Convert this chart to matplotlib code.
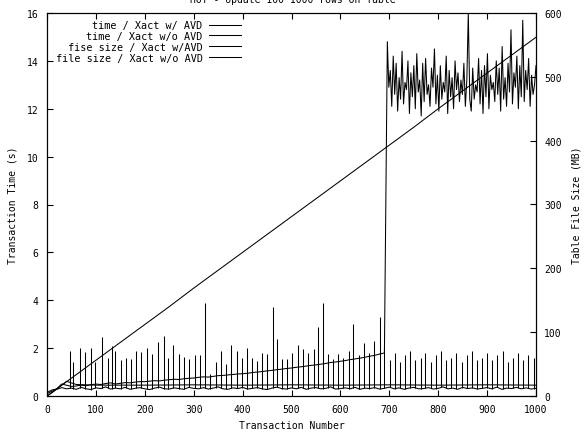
import numpy as np
import matplotlib
matplotlib.use("Agg")
import matplotlib.pyplot as plt

title = "HOT - Update 100 1000 rows on Table"
labels = ["time / Xact w/ AVD", "time / Xact w/o AVD",
          "fise size / Xact w/AVD", "file size / Xact w/o AVD"]

# time / Xact w/ AVD : baseline (every 10 txns) + periodic spikes
avd_base_y = [0.10, 0.20, 0.28, 0.35, 0.30, 0.33, 0.28, 0.36, 0.30, 0.27, 0.34, 0.31, 0.38, 0.29, 0.33,
              0.30, 0.36, 0.28, 0.32, 0.35, 0.30, 0.27, 0.33, 0.37, 0.30, 0.29, 0.34, 0.31, 0.28, 0.36,
              0.32, 0.30, 0.35, 0.29, 0.33, 0.38, 0.30, 0.28, 0.34, 0.31, 0.36, 0.29, 0.32, 0.35, 0.30,
              0.27, 0.33, 0.37, 0.31, 0.29, 0.34, 0.30, 0.36, 0.28, 0.33, 0.35, 0.30, 0.32, 0.38, 0.29,
              0.31, 0.34, 0.30, 0.36, 0.28, 0.33, 0.31, 0.35, 0.29, 0.32, 0.37, 0.30, 0.34, 0.28, 0.33,
              0.36, 0.30, 0.31, 0.35, 0.29, 0.32, 0.38, 0.30, 0.33, 0.28, 0.36, 0.31, 0.34, 0.29, 0.32,
              0.35, 0.30, 0.37, 0.28, 0.33, 0.31, 0.36, 0.30, 0.34, 0.29, 0.32]
spike_x = [47, 54, 67, 78, 90, 98, 112, 125, 132, 139, 151, 161, 171, 181, 192, 204, 215, 226, 239, 248,
           258, 269, 280, 290, 303, 313, 323, 333, 345, 356, 366, 377, 388, 398, 408, 420, 429, 439, 449,
           463, 471, 481, 491, 502, 514, 524, 534, 545, 555, 565, 575, 585, 596,
           606, 617, 625, 638, 648, 659, 669, 680, 690, 701, 711, 722, 732, 743, 753, 764, 774, 785, 795,
           806, 816, 827, 837, 848, 858, 869, 879, 890, 900, 911, 921, 932, 942, 953, 963, 974, 984, 995]
spike_y = [1.9, 1.4, 2.0, 1.85, 2.0, 1.4, 2.45, 1.6, 2.1, 1.9, 1.5, 1.6, 1.55, 1.9, 1.85, 2.0, 1.75, 2.25,
           2.5, 1.6, 2.15, 1.75, 1.65, 1.55, 1.7, 1.7, 3.9, 0.9, 1.4, 1.9, 1.35, 2.15, 1.9, 1.6, 2.0, 1.6,
           1.45, 1.8, 1.75, 3.7, 2.4, 1.55, 1.55, 1.8, 2.15, 1.95, 1.8, 1.95, 2.9, 3.9, 1.75, 1.55, 1.75,
           1.6, 1.9, 3.0, 1.7, 2.2, 1.8, 2.3, 3.3, 2.0, 1.5, 1.8, 1.4, 1.7, 1.9, 1.5, 1.6, 1.8, 1.4, 1.7,
           1.9, 1.5, 1.6, 1.8, 1.4, 1.7, 1.9, 1.5, 1.6, 1.8, 1.5, 1.7, 1.9, 1.4, 1.6, 1.8, 1.5, 1.7, 1.6]

# time / Xact w/o AVD : slowly rising line until the jump, then high noisy band
noavd_pre_y = [0.15, 0.25, 0.30, 0.50, 0.45, 0.40, 0.42, 0.45, 0.43, 0.47, 0.50, 0.48, 0.52, 0.55, 0.50,
               0.53, 0.56, 0.55, 0.58, 0.60, 0.60, 0.62, 0.64, 0.63, 0.66, 0.68, 0.70, 0.69, 0.72, 0.74,
               0.75, 0.78, 0.80, 0.79, 0.82, 0.85, 0.86, 0.88, 0.90, 0.92, 0.93, 0.95, 0.98, 1.00, 1.02,
               1.05, 1.07, 1.10, 1.12, 1.15, 1.17, 1.20, 1.22, 1.25, 1.28, 1.30, 1.33, 1.36, 1.40, 1.42,
               1.45, 1.48, 1.52, 1.55, 1.58, 1.62, 1.66, 1.70, 1.75, 1.80]
jump_x = 696
noavd_band_y = [14.8, 12.9, 13.6, 12.1, 14.2, 12.6, 13.9, 11.9, 13.3, 12.4, 14.4, 12.2, 13.1, 12.8, 14.0,
                11.8, 13.5, 12.5, 13.8, 12.0, 14.3, 12.7, 13.2, 11.7, 13.9, 12.3, 14.1, 12.6, 13.0, 12.1,
                13.7, 12.9, 14.5, 12.2, 13.4, 11.9, 13.8, 12.4, 13.1, 12.7, 14.2, 11.8, 13.6, 12.5, 13.3,
                12.0, 14.0, 12.8, 13.5, 12.3, 13.2, 12.6, 13.9, 12.1, 13.2, 16.0, 12.4, 11.9, 13.7, 12.4,
                13.0, 12.7, 14.1, 12.2, 13.6, 11.8, 13.8, 12.5, 14.3, 12.0, 13.4, 12.8, 13.1, 12.3, 14.0,
                12.6, 13.7, 11.9, 14.6, 12.4, 13.3, 12.1, 13.9, 12.7, 15.3, 12.2, 13.5, 12.9, 14.2, 12.0,
                13.8, 12.5, 15.7, 12.3, 13.6, 12.8, 14.1, 12.1, 13.4, 12.6, 13.0, 13.8]

# file sizes (MB, right axis)
fs_avd_x = [0, 10, 20, 30, 40, 60, 100, 200, 300, 400, 500, 600, 700, 800, 900, 1000]
fs_avd_y = [0, 5, 11, 17, 23, 18, 17, 17, 17.5, 17, 17.5, 17, 17.5, 17, 17.5, 17]
fs_noavd_x = [0, 50, 100, 150, 200, 250, 300, 350, 400, 450, 500, 550, 600, 650, 700, 750, 800, 850,
              900, 950, 1000]
fs_noavd_y = [0, 28, 56, 84, 112, 140, 169, 197, 225, 253, 281, 309, 337, 365, 393, 421, 450, 478,
              506, 534, 562]

xticks = list(range(0, 1001, 100))
yticks = list(range(0, 17, 2))
y2ticks = list(range(0, 601, 100))

plt.rcParams["font.family"] = ["DejaVu Sans Mono"]
FS = 7
LW = 0.75

fig = plt.figure(figsize=(5.85, 4.35), dpi=100)
ax = fig.add_axes([47 / 585, 1 - 397 / 435, (536 - 47) / 585, (397 - 14) / 435])
ax2 = ax.twinx()

base_x = np.linspace(0, 1000, len(avd_base_y))
l1, = ax.plot(base_x, avd_base_y, color="black", lw=LW)
ax.vlines(spike_x, np.interp(spike_x, base_x, avd_base_y), spike_y, color="black", lw=LW)

pre_x = np.linspace(0, jump_x - 6, len(noavd_pre_y))
band_x = np.linspace(jump_x, 1000, len(noavd_band_y))
l2, = ax.plot(np.concatenate([pre_x, band_x]), noavd_pre_y + noavd_band_y, color="black", lw=LW)

l3, = ax2.plot(fs_avd_x, fs_avd_y, color="black", lw=LW)
l4, = ax2.plot(fs_noavd_x, fs_noavd_y, color="black", lw=LW)

ax.set_xlim(0, 1000)
ax.set_ylim(0, 16)
ax2.set_ylim(0, 600)
ax.set_xticks(xticks)
ax.set_yticks(yticks)
ax2.set_yticks(y2ticks)
ax.tick_params(axis="x", direction="in", top=True, length=4, width=0.8, labelsize=FS, pad=6)
ax.tick_params(axis="y", direction="in", right=False, length=4, width=0.8, labelsize=FS, pad=6)
ax2.tick_params(axis="y", direction="in", length=4, width=0.8, labelsize=FS, pad=6)
for a in (ax, ax2):
    for s in a.spines.values():
        s.set_linewidth(0.8)

ax.set_xlabel("Transaction Number", fontsize=FS, labelpad=4)
ax.set_ylabel("Transaction Time (s)", fontsize=FS, labelpad=7)
ax2.set_ylabel("Table File Size (MB)", fontsize=FS, labelpad=7)

leg = ax.legend([l1, l2, l3, l4], labels, loc="upper left", bbox_to_anchor=(0.005, 0.997),
                frameon=False, markerfirst=False, fontsize=FS + 0.3, handlelength=3.2,
                labelspacing=0.08, handletextpad=0.6, borderaxespad=0.2)

fig.text(0.5, 1.0, title, ha="center", va="center", fontsize=FS)

fig.savefig("out.png", dpi=100)
